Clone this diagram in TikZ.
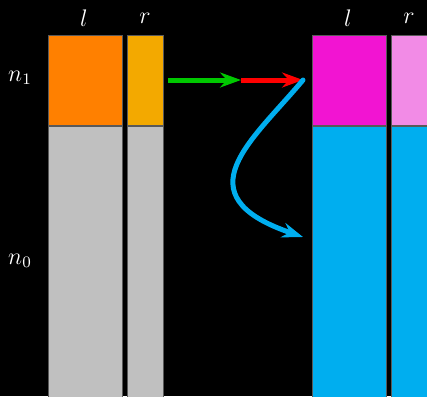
\documentclass[tikz,border=0pt]{standalone}
\usepackage{xcolor}
\definecolor{leftl}{HTML}{FF8000}
\definecolor{leftr}{HTML}{F3A900}
\definecolor{rightl}{HTML}{F214D2}
\definecolor{rightr}{HTML}{F28BE6}
\definecolor{newblue}{HTML}{00AEEF}
\definecolor{oldgray}{HTML}{C0C0C0}
\definecolor{arrgreen}{HTML}{00C800}
\usetikzlibrary{arrows.meta,positioning}

\begin{document}
\begin{tikzpicture}[
  x=0.5pt, y=-0.5pt,
  cell/.style={draw=black!65, line width=0.5pt, inner sep=0pt, minimum height=45pt},
  wide/.style={cell, minimum width=37pt},
  narrow/.style={cell, minimum width=18pt},
  tall/.style={minimum height=140pt},
  lbl/.style={text=white, inner sep=0pt, font=\large},
  arr/.style={-{Stealth[length=10.5pt, width=7.5pt, inset=3.5pt]}, line width=2.5pt}
]
\fill[black] (0,0) rectangle (427,396);
\clip (0,0) rectangle (427,396);
% left block
\node[wide, fill=leftl, anchor=north west] (ll1) at (48,35) {};
\node[narrow, fill=leftr, right=2pt of ll1] (lr1) {};
\node[wide, tall, fill=oldgray, below=0pt of ll1] (ll0) {};
\node[narrow, tall, fill=oldgray, below=0pt of lr1] (lr0) {};
% right block
\node[wide, fill=rightl, anchor=north west] (rl1) at (312,35) {};
\node[narrow, fill=rightr, right=2pt of rl1] (rr1) {};
\node[wide, tall, fill=newblue, below=0pt of rl1] (rl0) {};
\node[narrow, tall, fill=newblue, below=0pt of rr1] (rr0) {};
% labels
\node[lbl] (tl) at (84,18) {$l$};
\node[lbl] (tr) at (145,18) {$r$};
\node[lbl] (tl2) at (348,18) {$l$};
\node[lbl] (tr2) at (409,18) {$r$};
\node[lbl] (n1) at (20,78) {$n_1$};
\node[lbl] (n0) at (20,261) {$n_0$};
% arrows
\coordinate (mid) at (241,80);
\coordinate (hit) at (303,80);
\coordinate (land) at (303,237);
\draw[arr, arrgreen] ([xshift=2pt]lr1.east |- mid) -- (mid);
\draw[arr, red] (mid) -- (hit);
\draw[arr, newblue, line cap=round] (hit) .. controls (253,140) and (180,195) .. (land);
\end{tikzpicture}
\end{document}
